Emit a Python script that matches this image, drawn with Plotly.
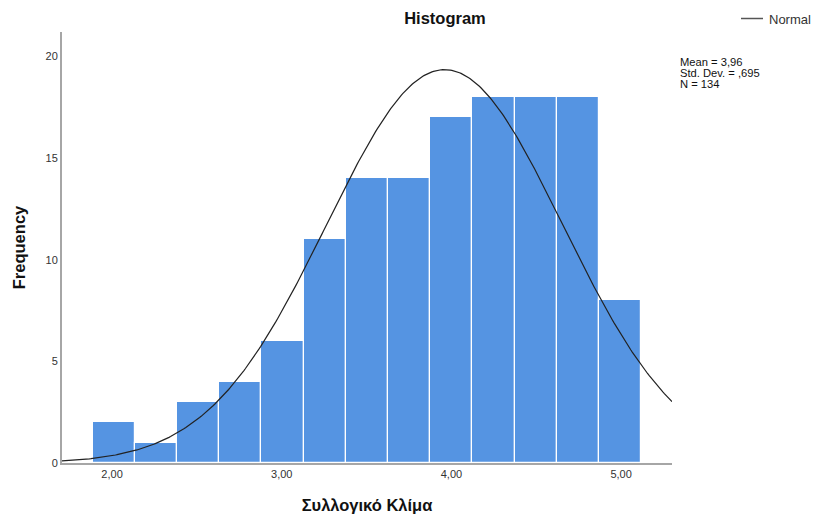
import numpy as np
import plotly.graph_objects as go

# Data
bin_start = 1.886
bin_width = 0.2486
counts = [2, 1, 3, 4, 6, 11, 14, 14, 17, 18, 18, 18, 8]
mean_val = 3.96
sd_val = 0.695
n_val = 134
curve_peak = 19.35  # height of the fitted normal curve
x_ticks = [2, 3, 4, 5]
y_ticks = [0, 5, 10, 15, 20]
stats_lines = ["Mean = 3,96", "Std. Dev. = ,695", "N = 134"]

centers = [bin_start + bin_width * (i + 0.5) for i in range(len(counts))]

x_range = [1.705, 5.30]
y_range = [0, 21.2]

xs = np.linspace(x_range[0], x_range[1], 400)
ys = curve_peak * np.exp(-0.5 * ((xs - mean_val) / sd_val) ** 2)

L, R, T, B = 62, 144, 32, 52
W, H = 816, 515
PW, PH = W - L - R, H - T - B

def px_x(p):
    return (p - L) / PW

def px_y(p):
    return (H - B - p) / PH

fig = go.Figure()
fig.add_trace(go.Bar(
    x=centers, y=counts, width=bin_width,
    marker=dict(color="#5594e2", line=dict(color="white", width=1.2)),
    showlegend=False, hoverinfo="skip",
))
fig.add_trace(go.Scatter(
    x=xs, y=ys, mode="lines", name="Normal",
    line=dict(color="#222222", width=1.2),
    showlegend=False,
))

font_family = "Liberation Sans, Arial, sans-serif"

fig.update_layout(
    width=W, height=H,
    margin=dict(l=L, r=R, t=T, b=B, autoexpand=False),
    plot_bgcolor="white", paper_bgcolor="white",
    separators=",.",
    font=dict(family=font_family, size=11, color="#222222"),
    bargap=0,
    showlegend=False,
    title=dict(text="<b>Histogram</b>", x=445 / W, xanchor="center",
               y=1 - 18 / H, yanchor="middle",
               font=dict(size=16.5, family=font_family, color="#111111")),
    xaxis=dict(
        range=x_range, tickvals=x_ticks, tickformat=".2f", automargin=False,
        showgrid=False, zeroline=False, showline=True,
        linecolor="#a6a6a6", linewidth=2, ticks="",
        tickfont=dict(size=11, color="#333333"),
        title=dict(text="<b>Συλλογικό Κλίμα</b>", font=dict(size=16.5, color="#111111"), standoff=20),
    ),
    yaxis=dict(
        range=y_range, tickvals=y_ticks, automargin=False,
        showgrid=False, zeroline=False, showline=True,
        linecolor="#a6a6a6", linewidth=2, ticks="",
        tickfont=dict(size=11, color="#333333"),
        title=dict(text="<b>Frequency</b>", font=dict(size=16.5, color="#111111"), standoff=16),
    ),
)

# legend: line sample + label
fig.add_shape(type="line", xref="paper", yref="paper",
              x0=px_x(741), x1=px_x(763), y0=px_y(18.5), y1=px_y(18.5),
              line=dict(color="#555555", width=1.5))
fig.add_annotation(
    x=px_x(767), y=px_y(19), xref="paper", yref="paper",
    xanchor="left", yanchor="middle", text="Normal", showarrow=False,
    font=dict(size=13, color="#333333", family=font_family),
)

for i, line in enumerate(stats_lines):
    fig.add_annotation(
        x=px_x(678), y=px_y(62 + 11 * i), xref="paper", yref="paper",
        xanchor="left", yanchor="middle", align="left",
        text=line, showarrow=False,
        font=dict(size=11.2, color="#111111", family=font_family),
    )

fig.write_html("out.html", config={"displayModeBar": False},
               post_script="document.body.style.margin='0px';document.body.style.overflow='hidden';")
